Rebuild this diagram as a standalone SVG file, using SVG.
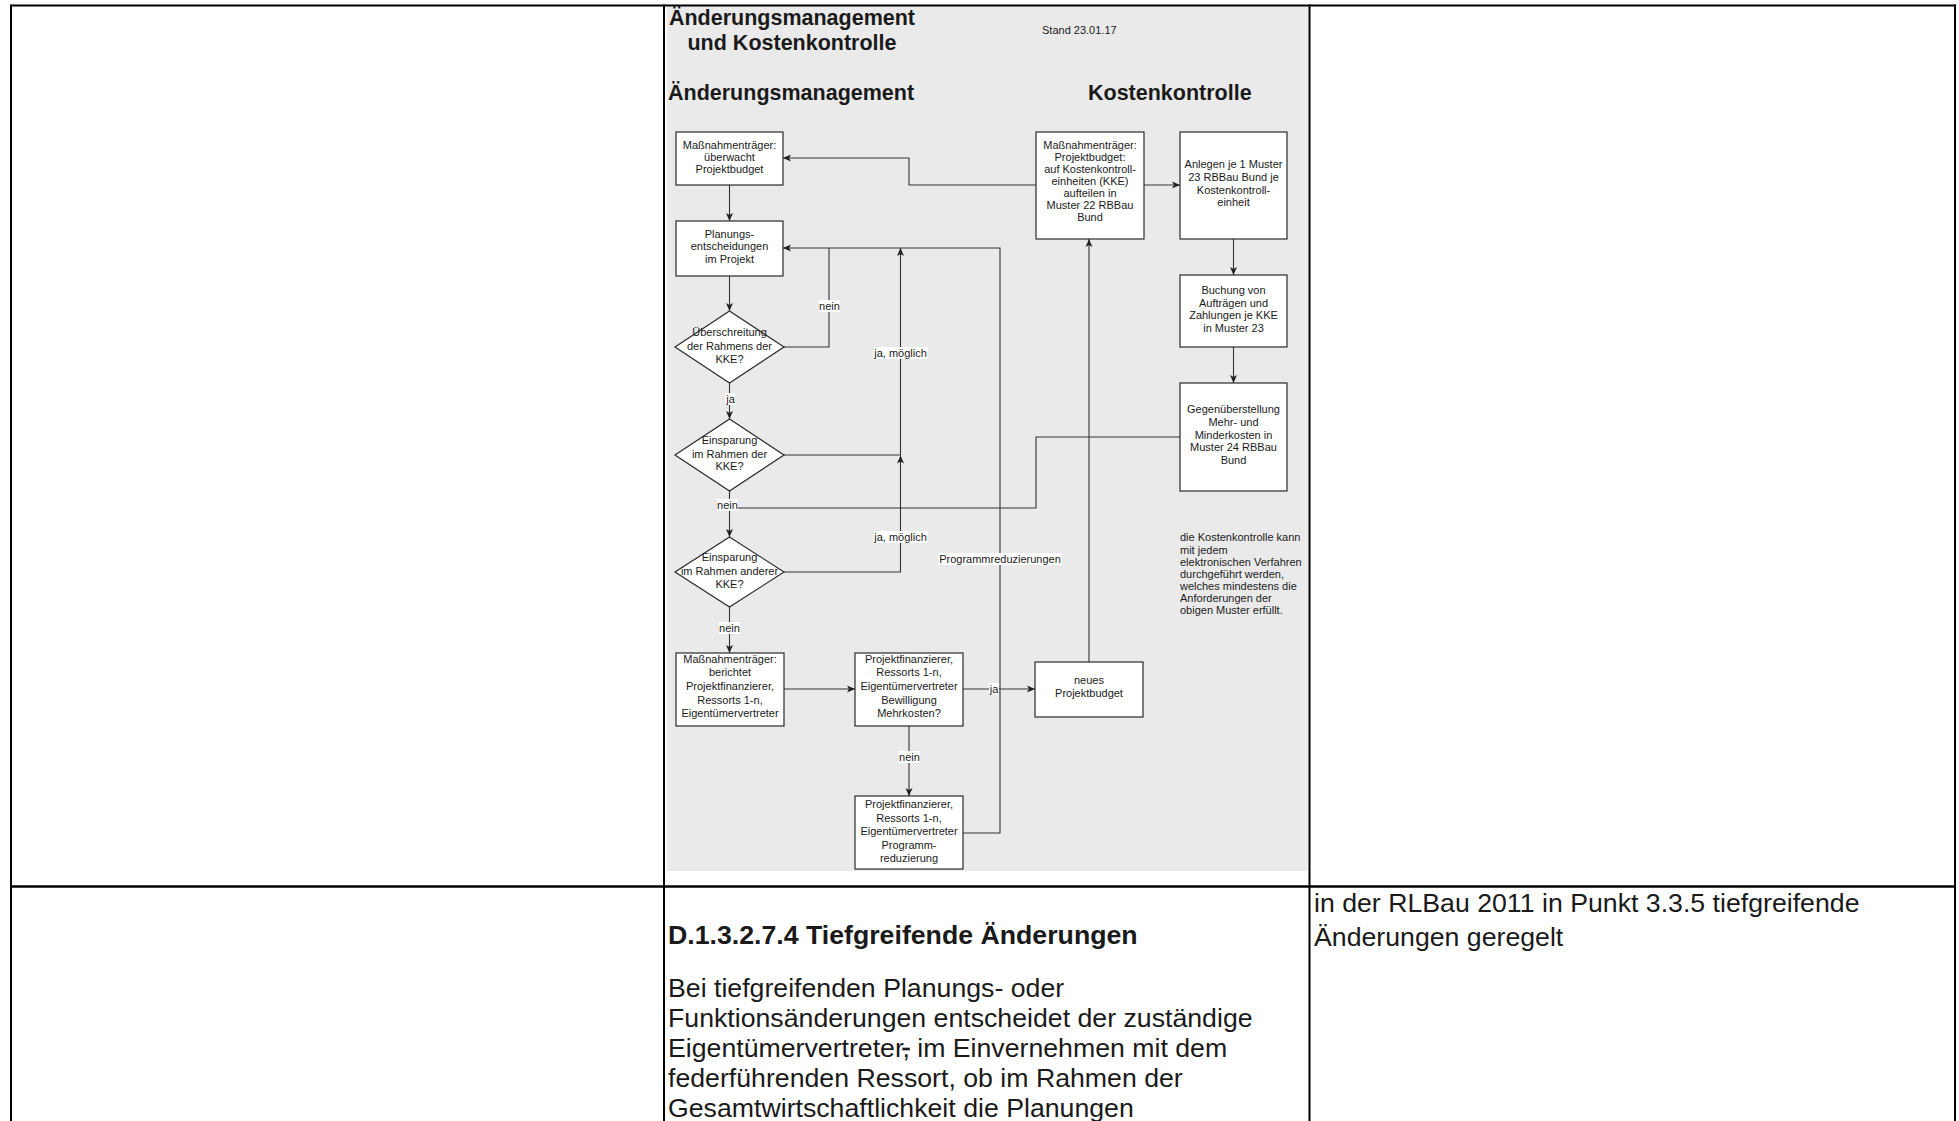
<svg xmlns="http://www.w3.org/2000/svg" width="1959" height="1121" viewBox="0 0 1959 1121">
  <defs>
    <marker id="arrow" markerUnits="userSpaceOnUse" markerWidth="10" markerHeight="8" refX="8" refY="4" orient="auto">
      <path d="M0,0.5 L8,4 L0,7.5 L2,4 z" fill="#222"/>
    </marker>
    <style>
      text { font-family: "Liberation Sans", Arial, sans-serif; fill: #1a1a1a; }
      .node rect, .node polygon { fill: #ffffff; stroke: #2a2a2a; stroke-width: 1.2; }
      .node text, .lbl text { font-size: 11px; text-anchor: middle; }
      .conn path { fill: none; stroke: #333; stroke-width: 1.1; }
      .lbl rect { fill: #ffffff; }
      .grid { stroke: #000; fill: none; }
      .h1 { font-size: 21.5px; font-weight: bold; }
      .small { font-size: 11px; }
      .doc { font-size: 26.7px; }
      .doch { font-size: 26.7px; font-weight: bold; }
    </style>
  </defs>

  <!-- page background -->
  <rect x="0" y="0" width="1959" height="1121" fill="#ffffff"/>

  <!-- embedded flowchart panel -->
  <rect x="667" y="6.5" width="641" height="864.5" fill="#eaeaea"/>

  <!-- table grid -->
  <g class="grid">
    <line x1="11" y1="5.5" x2="1956" y2="5.5" stroke-width="2"/>
    <line x1="11" y1="886.5" x2="1956" y2="886.5" stroke-width="2.6"/>
    <line x1="11" y1="4.5" x2="11" y2="1121" stroke-width="2"/>
    <line x1="664" y1="4.5" x2="664" y2="1121" stroke-width="2"/>
    <line x1="1309.5" y1="4.5" x2="1309.5" y2="1121" stroke-width="2"/>
    <line x1="1955" y1="4.5" x2="1955" y2="1121" stroke-width="2"/>
  </g>

  <!-- panel headings -->
  <text class="h1" x="792" y="25" text-anchor="middle">Änderungsmanagement</text>
  <text class="h1" x="792" y="50" text-anchor="middle">und Kostenkontrolle</text>
  <text class="small" x="1042" y="34">Stand 23.01.17</text>
  <text class="h1" x="668" y="100">Änderungsmanagement</text>
  <text class="h1" x="1088" y="100">Kostenkontrolle</text>

  <!-- connectors -->
  <g id="connectors" class="conn">
    <path d="M729.5,185 V221" marker-end="url(#arrow)"/>
    <path d="M729.5,276 V311" marker-end="url(#arrow)"/>
    <path d="M729.5,383 V419" marker-end="url(#arrow)"/>
    <path d="M729.5,491 V537" marker-end="url(#arrow)"/>
    <path d="M729.5,607 V653" marker-end="url(#arrow)"/>
    <path d="M784,347 H829 V248"/>
    <path d="M963,833 H1000 V248 H783" marker-end="url(#arrow)"/>
    <path d="M784,455 H900.5 V248" marker-end="url(#arrow)"/>
    <path d="M784,572 H900.5 V455.5" marker-end="url(#arrow)"/>
    <path d="M1180,437 H1036 V508 H729.5"/>
    <path d="M784,689 H855" marker-end="url(#arrow)"/>
    <path d="M963,689 H1035" marker-end="url(#arrow)"/>
    <path d="M909,726 V796" marker-end="url(#arrow)"/>
    <path d="M1089,662 V239" marker-end="url(#arrow)"/>
    <path d="M1036,185 H909 V158 H783" marker-end="url(#arrow)"/>
    <path d="M1144,185 H1180" marker-end="url(#arrow)"/>
    <path d="M1233.5,239 V275" marker-end="url(#arrow)"/>
    <path d="M1233.5,347 V383" marker-end="url(#arrow)"/>
  </g>

  <!-- connector labels -->
  <g class="lbl">
    <rect x="819" y="300" width="21" height="12"/>
    <text x="829.5" y="310">nein</text>
    <rect x="725" y="393" width="10" height="12"/>
    <text x="730.5" y="403">ja</text>
    <rect x="873.5" y="347" width="54" height="12"/>
    <text x="900.5" y="357">ja, möglich</text>
    <rect x="717" y="499" width="21" height="12"/>
    <text x="727.5" y="509">nein</text>
    <rect x="873.5" y="531" width="54" height="12"/>
    <text x="900.5" y="541">ja, möglich</text>
    <rect x="938.5" y="553" width="123" height="12"/>
    <text x="1000" y="563">Programmreduzierungen</text>
    <rect x="719" y="622" width="21" height="12"/>
    <text x="729.5" y="632">nein</text>
    <rect x="989" y="683" width="10" height="12"/>
    <text x="994" y="693">ja</text>
    <rect x="899" y="751" width="21" height="12"/>
    <text x="909.5" y="761">nein</text>
  </g>

  <!-- Änderungsmanagement column -->
  <g id="node-ueberwacht" class="node">
    <rect x="676" y="132" width="107" height="53"/>
    <text x="729.5" y="149">Maßnahmenträger:</text>
    <text x="729.5" y="161">überwacht</text>
    <text x="729.5" y="173">Projektbudget</text>
  </g>
  <g id="node-planung" class="node">
    <rect x="676" y="221" width="107" height="55"/>
    <text x="729.5" y="237.5">Planungs-</text>
    <text x="729.5" y="250">entscheidungen</text>
    <text x="729.5" y="262.5">im Projekt</text>
  </g>
  <g id="node-ueberschreitung" class="node">
    <polygon points="729.5,311 784,347 729.5,383 675,347"/>
    <text x="729.5" y="336">Überschreitung</text>
    <text x="729.5" y="349.5">der Rahmens der</text>
    <text x="729.5" y="363">KKE?</text>
  </g>
  <g id="node-einsparung-kke" class="node">
    <polygon points="729.5,419 784,455 729.5,491 675,455"/>
    <text x="729.5" y="444">Einsparung</text>
    <text x="729.5" y="457.5">im Rahmen der</text>
    <text x="729.5" y="470">KKE?</text>
  </g>
  <g id="node-einsparung-andere" class="node">
    <polygon points="729.5,537 784,572 729.5,607 675,572"/>
    <text x="729.5" y="561">Einsparung</text>
    <text x="729.5" y="574.5">im Rahmen anderer</text>
    <text x="729.5" y="588">KKE?</text>
  </g>
  <g id="node-berichtet" class="node">
    <rect x="676" y="653" width="108" height="73"/>
    <text x="730" y="662.5">Maßnahmenträger:</text>
    <text x="730" y="676">berichtet</text>
    <text x="730" y="690">Projektfinanzierer,</text>
    <text x="730" y="703.5">Ressorts 1-n,</text>
    <text x="730" y="717">Eigentümervertreter</text>
  </g>
  <g id="node-bewilligung" class="node">
    <rect x="855" y="653" width="108" height="73"/>
    <text x="909" y="662.5">Projektfinanzierer,</text>
    <text x="909" y="676">Ressorts 1-n,</text>
    <text x="909" y="690">Eigentümervertreter</text>
    <text x="909" y="703.5">Bewilligung</text>
    <text x="909" y="717">Mehrkosten?</text>
  </g>
  <g id="node-programmreduzierung" class="node">
    <rect x="855" y="796" width="108" height="73"/>
    <text x="909" y="808">Projektfinanzierer,</text>
    <text x="909" y="821.5">Ressorts 1-n,</text>
    <text x="909" y="835">Eigentümervertreter</text>
    <text x="909" y="848.5">Programm-</text>
    <text x="909" y="861.5">reduzierung</text>
  </g>
  <g id="node-neues-budget" class="node">
    <rect x="1035" y="662" width="108" height="55"/>
    <text x="1089" y="684">neues</text>
    <text x="1089" y="697">Projektbudget</text>
  </g>

  <!-- Kostenkontrolle column -->
  <g id="node-kke" class="node">
    <rect x="1036" y="132" width="108" height="107"/>
    <text x="1090" y="148.5">Maßnahmenträger:</text>
    <text x="1090" y="160.5">Projektbudget:</text>
    <text x="1090" y="172.5">auf Kostenkontroll-</text>
    <text x="1090" y="184.5">einheiten (KKE)</text>
    <text x="1090" y="197">aufteilen in</text>
    <text x="1090" y="209">Muster 22 RBBau</text>
    <text x="1090" y="221">Bund</text>
  </g>
  <g id="node-anlegen" class="node">
    <rect x="1180" y="132" width="107" height="107"/>
    <text x="1233.5" y="167.5">Anlegen je 1 Muster</text>
    <text x="1233.5" y="180.5">23 RBBau Bund je</text>
    <text x="1233.5" y="193.5">Kostenkontroll-</text>
    <text x="1233.5" y="206">einheit</text>
  </g>
  <g id="node-buchung" class="node">
    <rect x="1180" y="275" width="107" height="72"/>
    <text x="1233.5" y="293.5">Buchung von</text>
    <text x="1233.5" y="306.5">Aufträgen und</text>
    <text x="1233.5" y="319">Zahlungen je KKE</text>
    <text x="1233.5" y="331.5">in Muster 23</text>
  </g>
  <g id="node-gegenueberstellung" class="node">
    <rect x="1180" y="383" width="107" height="108"/>
    <text x="1233.5" y="412.5">Gegenüberstellung</text>
    <text x="1233.5" y="425.5">Mehr- und</text>
    <text x="1233.5" y="438.5">Minderkosten in</text>
    <text x="1233.5" y="451">Muster 24 RBBau</text>
    <text x="1233.5" y="464">Bund</text>
  </g>

  <!-- note -->
  <g id="note" class="small">
    <text x="1180" y="541">die Kostenkontrolle kann</text>
    <text x="1180" y="553.5">mit jedem</text>
    <text x="1180" y="566">elektronischen Verfahren</text>
    <text x="1180" y="578">durchgeführt werden,</text>
    <text x="1180" y="590">welches mindestens die</text>
    <text x="1180" y="602">Anforderungen der</text>
    <text x="1180" y="614">obigen Muster erfüllt.</text>
  </g>

  <!-- second table row -->
  <text class="doch" x="668" y="944">D.1.3.2.7.4 Tiefgreifende Änderungen</text>
  <text class="doc" x="668" y="997">Bei tiefgreifenden Planungs- oder</text>
  <text class="doc" x="668" y="1027">Funktionsänderungen entscheidet der zuständige</text>
  <text class="doc" x="668" y="1057">Eigentümervertreter<tspan text-decoration="line-through">,</tspan> im Einvernehmen mit dem</text>
  <text class="doc" x="668" y="1087">federführenden Ressort, ob im Rahmen der</text>
  <text class="doc" x="668" y="1117">Gesamtwirtschaftlichkeit die Planungen</text>
  <text class="doc" x="1314" y="912">in der RLBau 2011 in Punkt 3.3.5 tiefgreifende</text>
  <text class="doc" x="1314" y="946">Änderungen geregelt</text>
</svg>
